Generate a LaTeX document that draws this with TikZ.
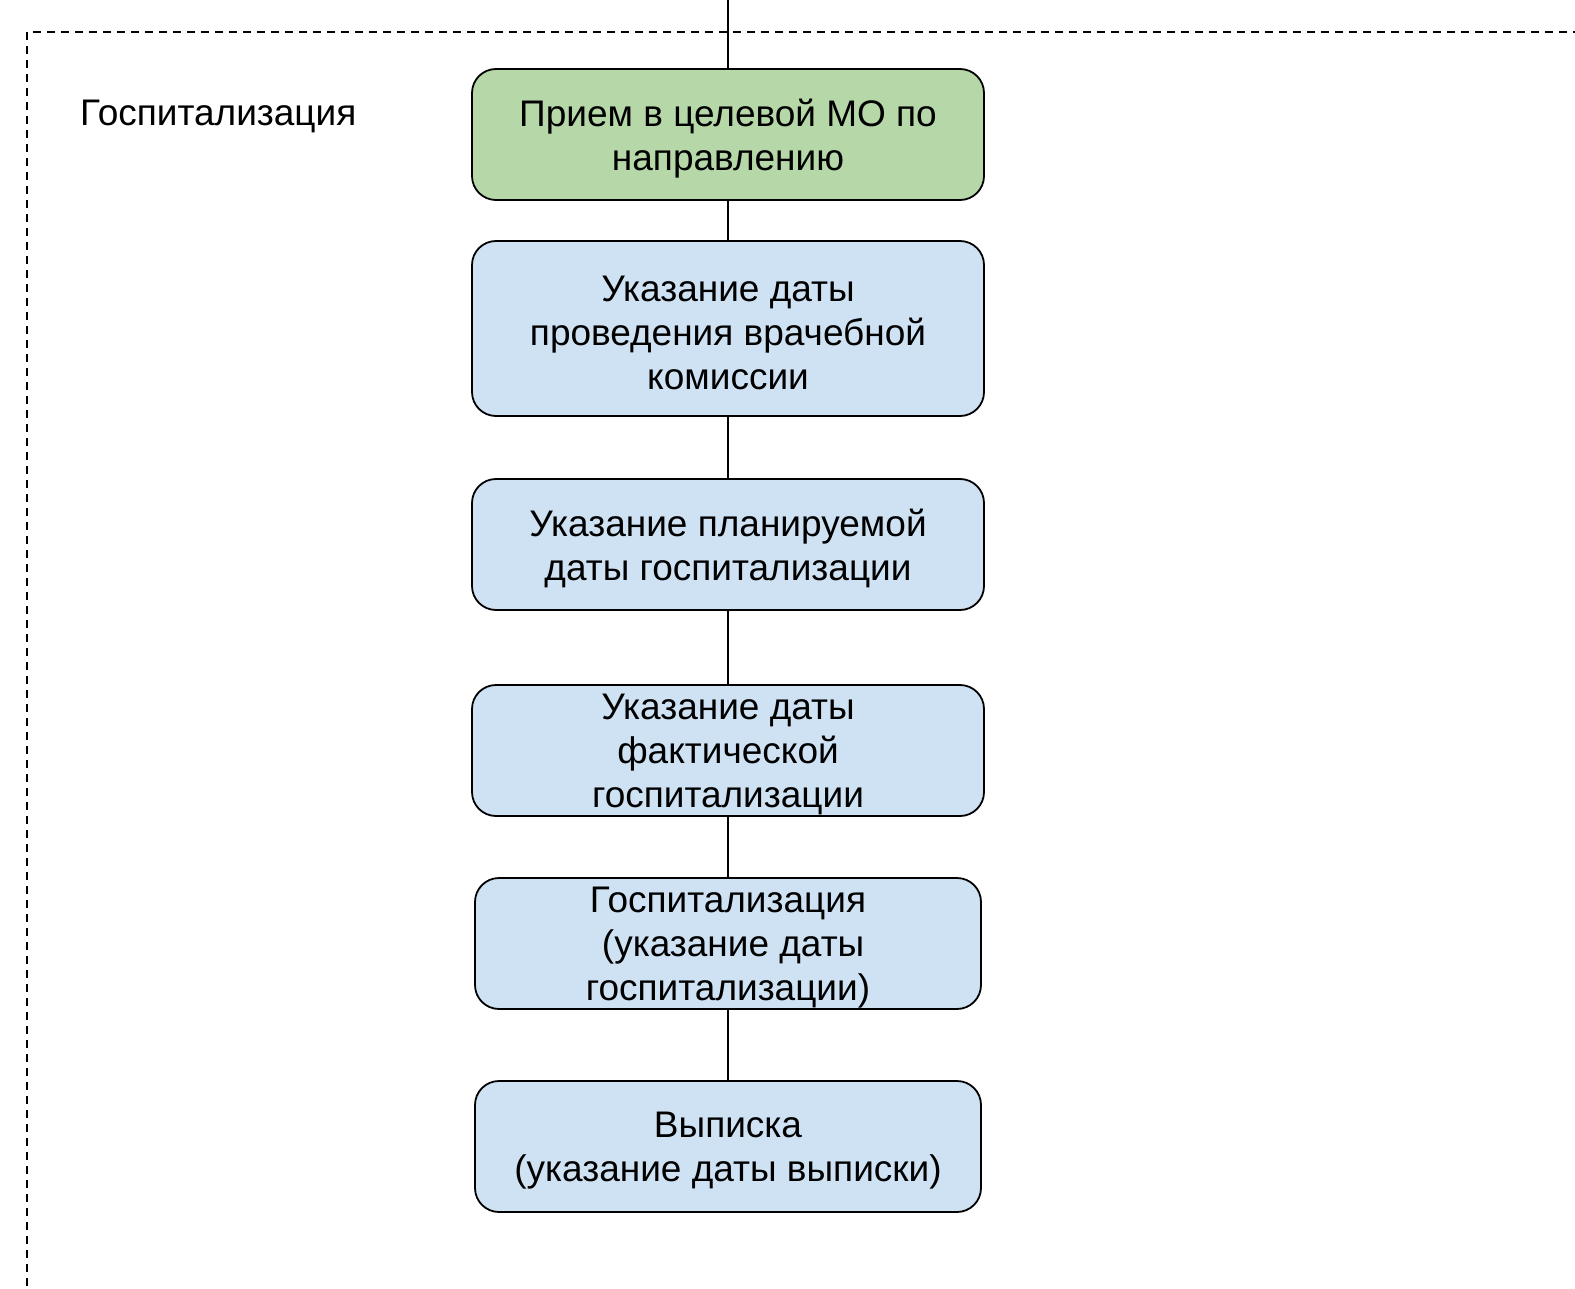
\documentclass[tikz,border=0pt]{standalone}
\usepackage{fontspec}
\setmainfont{Liberation Sans}
\definecolor{boxgreen}{HTML}{B6D7A8}
\definecolor{boxblue}{HTML}{CFE2F3}
\begin{document}
\begin{tikzpicture}[x=1pt,y=-1pt,
  stepbox/.style={draw=black,line width=1.8pt,rounded corners=24pt,fill=boxblue,
    inner sep=0pt,minimum width=512pt},
  steptext/.style={inner sep=0pt,align=center,font=\fontsize{37}{44}\selectfont},
  conn/.style={draw=black,line width=1.5pt},
  frame/.style={draw=black,line width=1.8pt,dash pattern=on 8pt off 6pt}]
\useasboundingbox (0,0) rectangle (1575,1289);
\fill[white] (0,0) rectangle (1575,1289);
\draw[frame] (27,1300) -- (27,32) -- (1600,32);
\node[anchor=base west,font=\fontsize{37}{44}\selectfont,inner sep=0pt] (lbl) at (80,125.5) {Госпитализация};
\coordinate (top) at (728,0);
\node[stepbox,fill=boxgreen,minimum height=131pt] (b1) at (728,134.5) {};
\node[stepbox,minimum height=175pt] (b2) at (728,328.5) {};
\node[stepbox,minimum height=131pt] (b3) at (728,544.5) {};
\node[stepbox,minimum height=131pt] (b4) at (728,750.5) {};
\node[stepbox,minimum height=131pt,minimum width=506pt] (b5) at (728,943.5) {};
\node[stepbox,minimum height=131pt,minimum width=506pt] (b6) at (728,1146.5) {};
\node[steptext] (t1) at ([yshift=-4pt]b1.center) {Прием в целевой МО по\\направлению};
\node[steptext] (t2) at ([yshift=-4pt]b2.center) {Указание даты\\проведения врачебной\\комиссии};
\node[steptext] (t3) at ([yshift=-4pt]b3.center) {Указание планируемой\\даты госпитализации};
\node[steptext] (t4) at ([yshift=-4pt]b4.center) {Указание даты\\фактической\\госпитализации};
\node[steptext] (t5) at ([yshift=-4pt]b5.center) {Госпитализация\\\ (указание даты\\госпитализации)};
\node[steptext] (t6) at ([yshift=-4pt]b6.center) {Выписка\\(указание даты выписки)};
\draw[conn] (top) -- (b1.north);
\draw[conn] (b1) -- (b2);
\draw[conn] (b2) -- (b3);
\draw[conn] (b3) -- (b4);
\draw[conn] (b4) -- (b5);
\draw[conn] (b5) -- (b6);
\end{tikzpicture}
\end{document}
